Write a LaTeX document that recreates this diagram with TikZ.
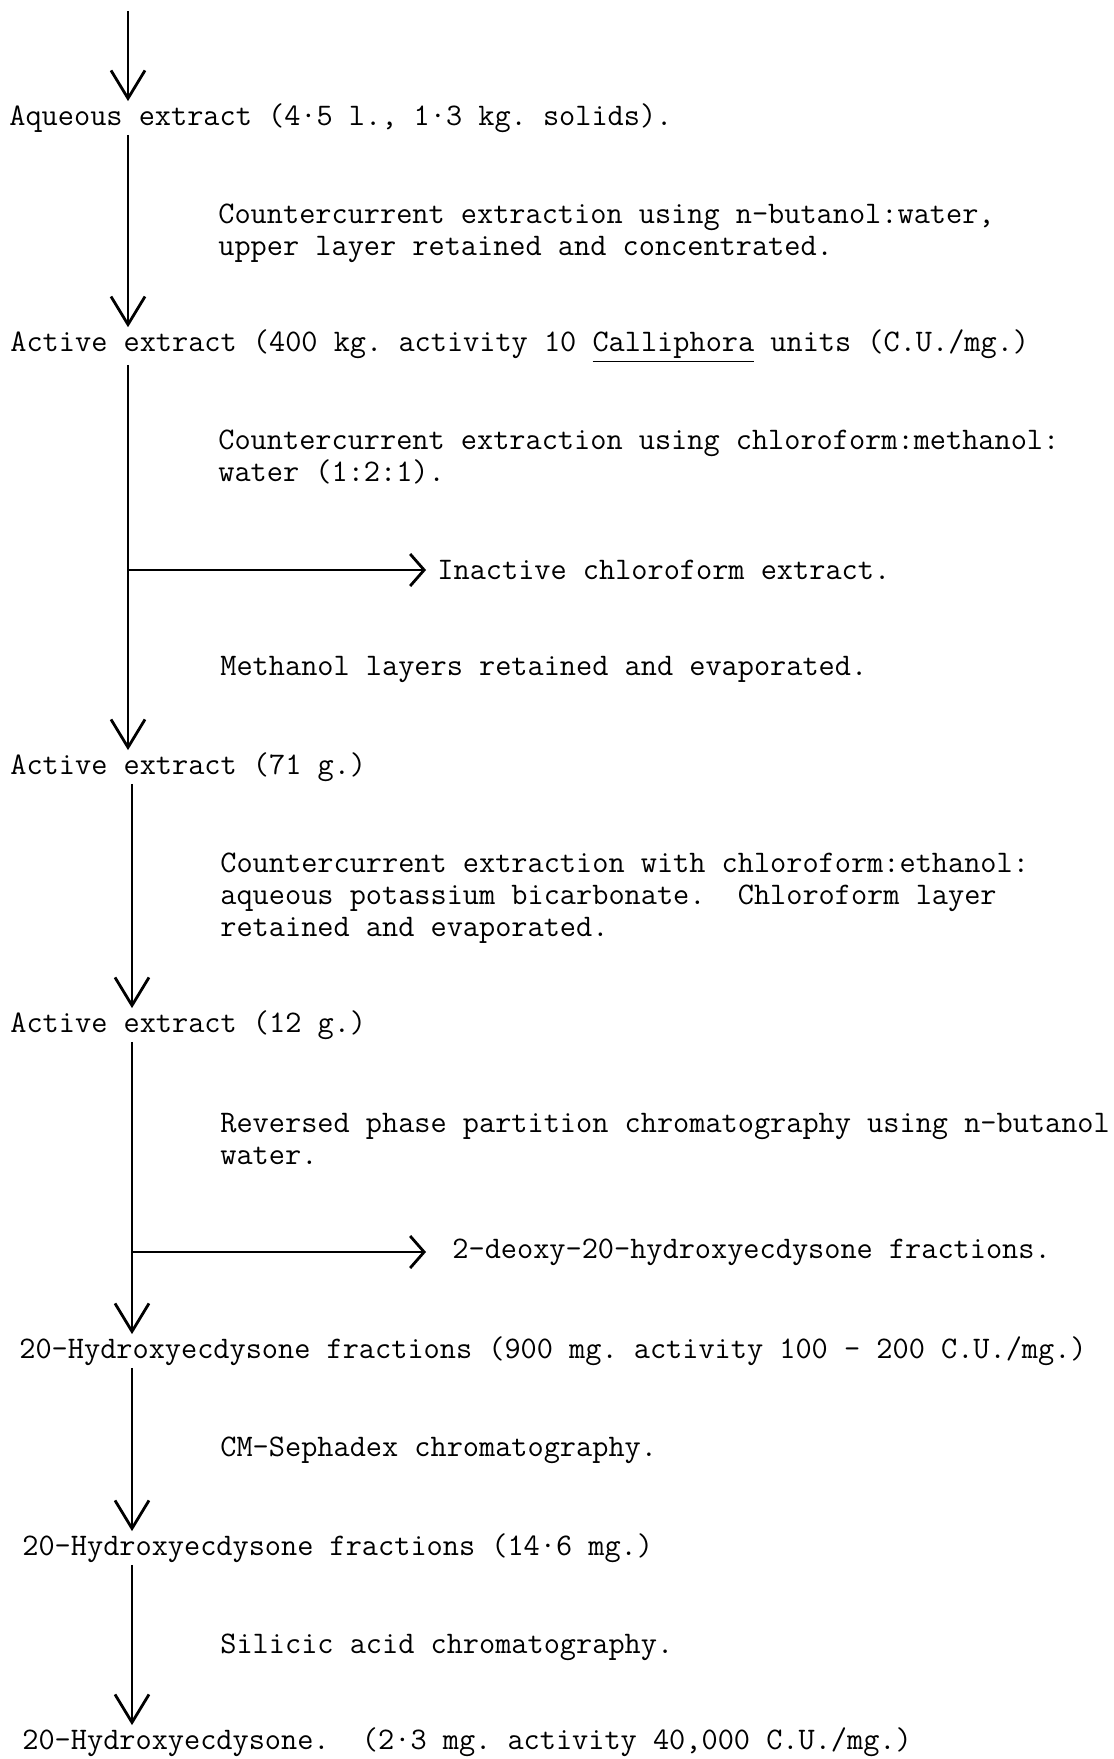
\documentclass[tikz,border=0pt]{standalone}
\usepackage{fontspec}
\usetikzlibrary{arrows.meta}

\tikzset{
  tt/.style={font=\ttfamily\frenchspacing\fontsize{15.7}{16}\selectfont},
  product/.style={tt,anchor=west,inner sep=1pt},
  stepnote/.style={tt,anchor=west,align=left,inner sep=0pt},
  flow/.style={line width=1.4pt,-{Straight Barb[length=14pt,width=17pt,line width=1.4pt]}},
  sideflow/.style={line width=1.4pt,-{Straight Barb[length=7pt,width=16pt,line width=1.4pt]}},
}

\begin{document}
\begin{tikzpicture}[x=0.5pt,y=-0.5pt]
\useasboundingbox (0,0) rectangle (1113,1759);
\coordinate (top) at (128,11);
\coordinate (s1) at (128,0); \coordinate (s2) at (132,0);
\coordinate (tip) at (426,0);

% products
\node[product] (aq) at (7,118) {Aqueous extract (4·5 l., 1·3 kg. solids).};
\node[product] (act1) at (8,346) {Active extract (400 kg. activity 10 \underline{Calliphora} units (C.U./mg.)};
\node[product] (act2) at (8,767) {Active extract (71 g.)};
\node[product] (act3) at (8,1025) {Active extract (12 g.)};
\node[product] (hyd1) at (17,1351) {20-Hydroxyecdysone fractions (900 mg. activity 100 - 200 C.U./mg.)};
\node[product] (hyd2) at (20,1548) {20-Hydroxyecdysone fractions (14·6 mg.)};
\node[product] (fin) at (20,1742) {20-Hydroxyecdysone.\ \ (2·3 mg. activity 40,000 C.U./mg.)};

% side products
\node[product] (inact) at (435,570) {Inactive chloroform extract.};
\node[product] (deoxy) at (450,1252) {2-deoxy-20-hydroxyecdysone fractions.};

% steps
\node[stepnote] (c1) at (218,233) {Countercurrent extraction using n-butanol:water,\\upper layer retained and concentrated.};
\node[stepnote] (c2) at (218,457) {Countercurrent extraction using chloroform:methanol:\\water (1:2:1).};
\node[stepnote] (c3) at (220,669) {Methanol layers retained and evaporated.};
\node[stepnote] (c4) at (220,898) {Countercurrent extraction with chloroform:ethanol:\\aqueous potassium bicarbonate.\ \ Chloroform layer\\retained and evaporated.};
\node[stepnote] (c5) at (220,1139) {Reversed phase partition chromatography using n-butanol\\water.};
\node[stepnote] (c6) at (220,1450) {CM-Sephadex chromatography.};
\node[stepnote] (c7) at (220,1647) {Silicic acid chromatography.};

% flow
\draw[flow] (top) -- (aq.north -| s1);
\draw[flow] (aq.south -| s1) -- (act1.north -| s1);
\draw[flow] (act1.south -| s1) -- (act2.north -| s1);
\draw[sideflow] (inact.west -| s1) -- (inact.west -| tip);
\draw[flow] (act2.south -| s2) -- (act3.north -| s2);
\draw[flow] (act3.south -| s2) -- (hyd1.north -| s2);
\draw[sideflow] (deoxy.west -| s2) -- (deoxy.west -| tip);
\draw[flow] (hyd1.south -| s2) -- (hyd2.north -| s2);
\draw[flow] (hyd2.south -| s2) -- (fin.north -| s2);
\end{tikzpicture}
\end{document}
